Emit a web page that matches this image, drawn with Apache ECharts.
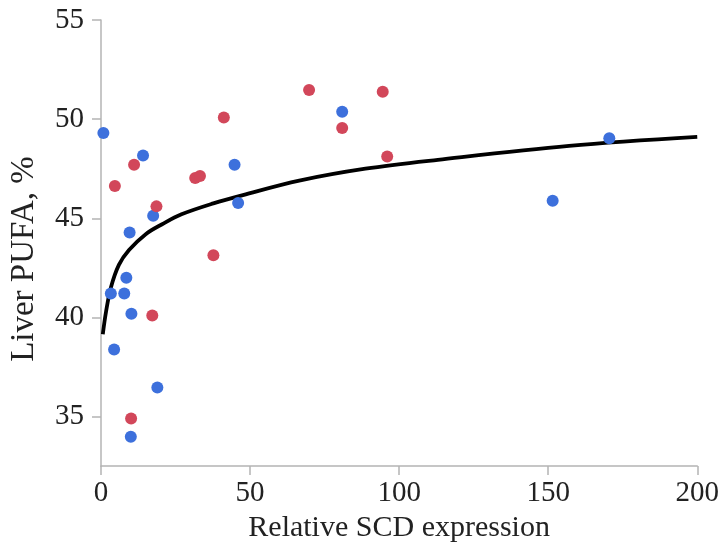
<!DOCTYPE html>
<html>
<head>
<meta charset="utf-8">
<script src="https://cdn.jsdelivr.net/npm/echarts@6/dist/echarts.min.js"></script>
<style>html,body{margin:0;padding:0;background:#fff}#c{width:722px;height:548px}</style>
</head>
<body>
<div id="c"></div>
<script>
// Blue group: [relative SCD expression, liver PUFA %]
const blueData = [
  [0.8, 49.3], [14.1, 48.17], [44.8, 47.7], [46.0, 45.77], [17.5, 45.13],
  [9.6, 44.28], [8.5, 42.0], [3.3, 41.2], [7.8, 41.2], [10.2, 40.18],
  [4.4, 38.38], [18.9, 36.47], [10.0, 33.98], [80.9, 50.37], [170.5, 49.03],
  [151.5, 45.88]
];
// Red group
const redData = [
  [41.2, 50.08], [11.1, 47.7], [31.6, 47.03], [33.2, 47.13], [4.65, 46.63],
  [18.6, 45.6], [37.7, 43.13], [17.2, 40.1], [10.1, 34.9], [69.8, 51.47],
  [94.5, 51.38], [80.9, 49.55], [96.0, 48.12]
];
// Trend curve, points
const curveData = [
  [0.6, 39.15], [1.7, 40.3], [3.3, 41.5], [6.0, 42.65], [9.4, 43.4],
  [15.0, 44.2], [20.5, 44.7], [27.0, 45.2], [37.7, 45.75], [47.6, 46.17],
  [66.5, 46.9], [88.7, 47.5], [113.0, 47.95], [157.0, 48.65], [200.0, 49.1]
];
const xTicks = [0, 50, 100, 150, 200];
const yTicks = [35, 40, 45, 50, 55];
const xTitle = 'Relative SCD expression';
const yTitle = 'Liver PUFA, %';

const font = '"Liberation Serif", "Times New Roman", serif';
const axisGray = '#b4b4b4';
const chart = echarts.init(document.getElementById('c'));
chart.setOption({
  animation: false,
  backgroundColor: '#fff',
  grid: { left: 100, right: 21, top: 20, bottom: 78, containLabel: false },
  xAxis: {
    type: 'value', min: xTicks[0], max: xTicks[xTicks.length - 1], interval: 50,
    name: xTitle, nameLocation: 'middle', nameGap: 44,
    nameTextStyle: { fontFamily: font, fontSize: 30, color: '#222' },
    axisLine: { show: true, lineStyle: { color: axisGray, width: 1.5 } },
    axisTick: { show: true, length: 9, lineStyle: { color: axisGray, width: 1.5 } },
    axisLabel: { fontFamily: font, fontSize: 29, color: '#222', margin: 13 },
    splitLine: { show: false }
  },
  yAxis: {
    type: 'value', min: 32.5, max: 55,
    name: yTitle, nameLocation: 'middle', nameGap: 60,
    nameTextStyle: { fontFamily: font, fontSize: 33, color: '#222', padding: [0, 32, 0, 0] },
    axisLine: { show: true, onZero: false, lineStyle: { color: axisGray, width: 1.5 } },
    axisTick: { show: true, length: 9, customValues: yTicks, lineStyle: { color: axisGray, width: 1.5 } },
    axisLabel: { fontFamily: font, fontSize: 29, color: '#222', margin: 17, customValues: yTicks },
    splitLine: { show: false }
  },
  series: [
    {
      type: 'line', data: curveData, smooth: 0.35,
      showSymbol: false, symbol: 'none',
      lineStyle: { color: '#000', width: 3.8 }, z: 2
    },
    {
      type: 'scatter', data: blueData, symbolSize: 12,
      itemStyle: { color: '#3d70dc', opacity: 1 }, z: 3
    },
    {
      type: 'scatter', data: redData, symbolSize: 12,
      itemStyle: { color: '#d2475a', opacity: 1 }, z: 3
    }
  ]
});
</script>
</body>
</html>
